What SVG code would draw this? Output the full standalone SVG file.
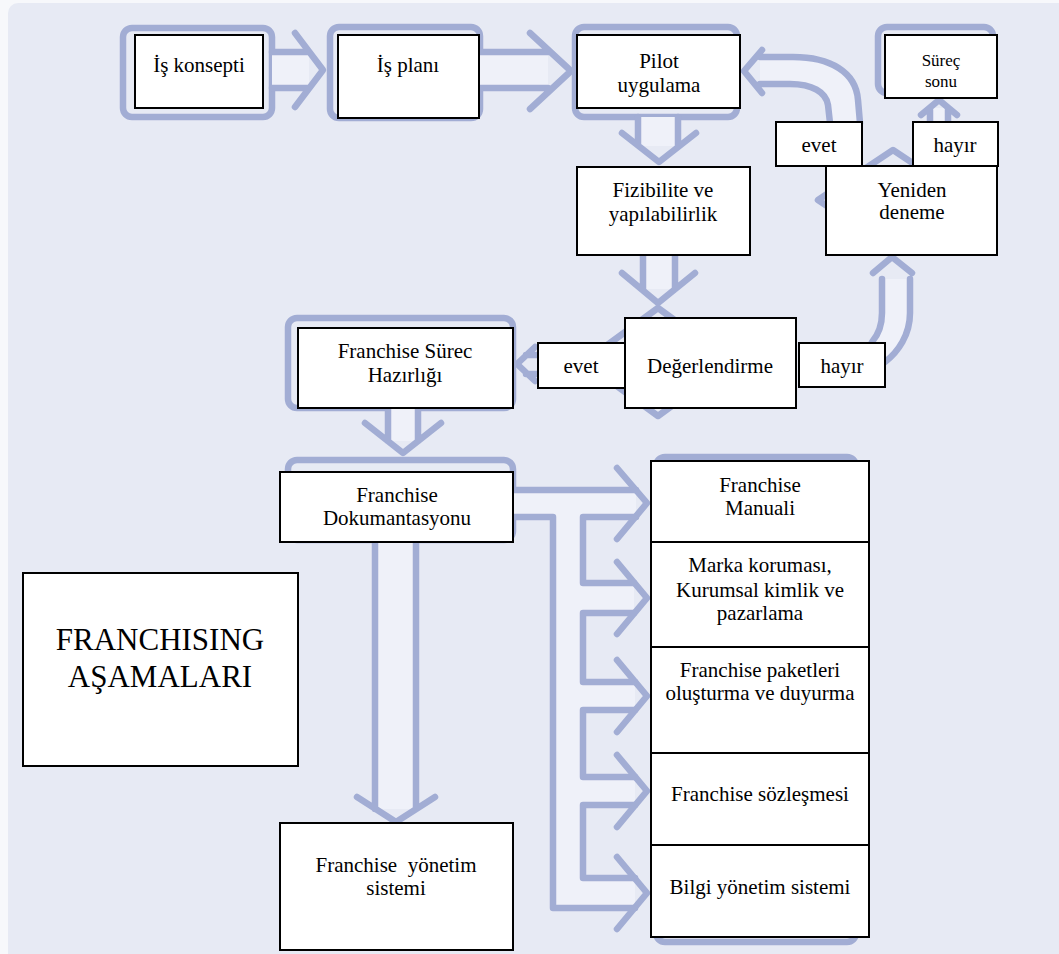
<svg xmlns="http://www.w3.org/2000/svg" width="1059" height="954" viewBox="0 0 1059 954">
<style>
.ln{fill:none;stroke:#a2add4;stroke-width:6.5;stroke-linecap:round;stroke-linejoin:round}
.fr{fill:none;stroke:#a2add4;stroke-width:6.5}
.bd{fill:#eff1f9;stroke:none}
.box{fill:#fff;stroke:#000;stroke-width:2}
.sm{font-size:17px}
.big{font-size:31px}
</style>
<rect x="0" y="0" width="1059" height="954" fill="#f7f8fb"/>
<rect x="8" y="3" width="1070" height="970" rx="10" fill="#e7eaf4"/>

<g id="frames">
<rect class="fr" x="123" y="28" width="149" height="89" rx="9"/>
<rect class="fr" x="330" y="27" width="150" height="91" rx="9"/>
<rect class="fr" x="575" y="27" width="162" height="90" rx="9"/>
<rect class="fr" x="878" y="27" width="115" height="66" rx="9"/>
<rect class="fr" x="288" y="318" width="225" height="90" rx="9"/>
<rect class="fr" x="288" y="460" width="225" height="80" rx="9"/>
<rect class="fr" x="656" y="457" width="200" height="485" rx="9"/>
<path class="ln" d="M658,308 L732,362 L658,416 L584,362 Z"/>
<path class="ln" d="M893,150 L968,200 L893,250 L818,200 Z"/>
</g>

<g id="connectors">
<rect class="bd" x="272" y="52" width="37" height="36"/>
<path class="ln" d="M272,52 H309 M272,88 H309 M295,33 L323,70 L295,107"/>
<rect class="bd" x="480" y="52" width="68" height="36"/>
<path class="ln" d="M480,52 H548 M480,88 H548 M530,33 L571,71 L530,109"/>
<rect class="bd" x="638" y="117" width="40" height="29"/>
<path class="ln" d="M638,117 V145 M678,117 V146 M622,133 L659,162 L696,133"/>
<rect class="bd" x="643" y="255" width="32" height="34"/>
<path class="ln" d="M643,255 V290 M675,255 V289 M622,273 L658,303 L695,273"/>
<path class="ln" d="M526,355 H540 M526,374 H540 M535,347 L517,364 L535,381"/>
<rect class="bd" x="388" y="408" width="30" height="33"/>
<path class="ln" d="M388,408 V441 M418,408 V441 M365,423 L403,453 L441,423"/>
<rect class="bd" x="375" y="542" width="41" height="267"/>
<path class="ln" d="M375,542 V809 M416,542 V809 M357,797 L396,822 L435,797"/>
<path class="bd" d="M513,490 H636 V517 H583 V583 H634 V613 H583 V682 H635 V710 H583 V777 H635 V805 H583 V878 H635 V908 H553 V517 H513 Z"/>
<path class="ln" d="M513,490 H636 M513,517 H553 V908 H635 M636,517 H583 V583 H634 M634,613 H583 V682 H635 M635,710 H583 V777 H635 M635,805 H583 V878 H635"/>
<path class="ln" d="M617,468 L647,503 L617,539 M617,562 L647,598 L617,634 M617,660 L647,696 L617,732 M617,755 L647,791 L617,827 M617,857 L647,893 L617,929"/>
<path class="bd" d="M760,57 L793,57 C830,57 856,72 858,100 L860,123 L830,123 L828,105 C826,92 812,84 790,84 L760,84 Z"/>
<path class="ln" d="M860,123 L858,100 C856,72 830,57 793,57 L760,57 M830,123 L828,105 C826,92 812,84 790,84 L760,84 M762,50 L744,71 L762,93"/>
<path class="bd" d="M882,279 H910 V313 C910,335 898,352 885,362 L885,343 L872,343 C878,335 882,325 882,313 Z"/>
<path class="ln" d="M910,279 V313 C910,335 898,352 885,362 M882,279 V313 C882,325 878,335 872,342 M873,273 L892,257 L912,273"/>
<rect class="bd" x="930" y="108" width="18" height="14"/>
<path class="ln" d="M930,108 V122 M948,108 V122 M921,115 L939,100 L957,115"/>
</g>

<g font-family="Liberation Serif, Times New Roman, serif" font-size="21" text-anchor="middle" fill="#000" font-weight="normal">
<g id="n-konsepti"><rect class="box" x="135" y="35" width="128" height="73"/><text x="199" y="72">İş konsepti</text></g>
<g id="n-plan"><rect class="box" x="338" y="35" width="141" height="83"/><text x="408" y="72">İş planı</text></g>
<g id="n-pilot"><rect class="box" x="577" y="35" width="163" height="73"/><text x="659" y="68">Pilot</text><text x="659" y="92">uygulama</text></g>
<g id="n-surec"><rect class="box" x="885" y="35" width="112" height="63"/><text class="sm" x="941" y="66">Süreç</text><text class="sm" x="941" y="87">sonu</text></g>
<g id="n-evet1"><rect class="box" x="776" y="122" width="86" height="44"/><text x="819" y="152">evet</text></g>
<g id="n-hayir1"><rect class="box" x="913" y="122" width="85" height="44"/><text x="955" y="152">hayır</text></g>
<g id="n-yeniden"><rect class="box" x="826" y="166" width="171" height="89"/><text x="912" y="197">Yeniden</text><text x="912" y="219">deneme</text></g>
<g id="n-fizibilite"><rect class="box" x="577" y="167" width="173" height="88"/><text x="663" y="197">Fizibilite ve</text><text x="663" y="221">yapılabilirlik</text></g>
<g id="n-fsh"><rect class="box" x="298" y="328" width="215" height="80"/><text x="405" y="358">Franchise Sürec</text><text x="405" y="382">Hazırlığı</text></g>
<g id="n-evet2"><rect class="box" x="538" y="343" width="87" height="45"/><text x="581" y="373">evet</text></g>
<g id="n-deger"><rect class="box" x="625" y="318" width="171" height="90"/><text x="710" y="373">Değerlendirme</text></g>
<g id="n-hayir2"><rect class="box" x="799" y="343" width="86" height="44"/><text x="842" y="373">hayır</text></g>
<g id="n-dok"><rect class="box" x="280" y="472" width="233" height="70"/><text x="397" y="502">Franchise</text><text x="397" y="525">Dokumantasyonu</text></g>
<g id="n-manuali"><rect class="box" x="651" y="461" width="218" height="81"/><text x="760" y="492">Franchise</text><text x="760" y="515">Manuali</text></g>
<g id="n-marka"><rect class="box" x="651" y="542" width="218" height="105"/><text x="760" y="572">Marka koruması,</text><text x="760" y="597">Kurumsal kimlik ve</text><text x="760" y="620">pazarlama</text></g>
<g id="n-paket"><rect class="box" x="651" y="647" width="218" height="106"/><text x="760" y="677">Franchise paketleri</text><text x="760" y="700">oluşturma ve duyurma</text></g>
<g id="n-sozlesme"><rect class="box" x="651" y="753" width="218" height="92"/><text x="760" y="801">Franchise sözleşmesi</text></g>
<g id="n-bilgi"><rect class="box" x="651" y="845" width="218" height="92"/><text x="760" y="894">Bilgi yönetim sistemi</text></g>
<g id="n-title"><rect class="box" x="23" y="573" width="275" height="193"/><text class="big" x="160" y="650">FRANCHISING</text><text class="big" x="160" y="687">AŞAMALARI</text></g>
<g id="n-yonetim"><rect class="box" x="280" y="823" width="233" height="127"/><text x="396" y="872" xml:space="preserve">Franchise  yönetim</text><text x="396" y="895">sistemi</text></g>
</g>
</svg>
